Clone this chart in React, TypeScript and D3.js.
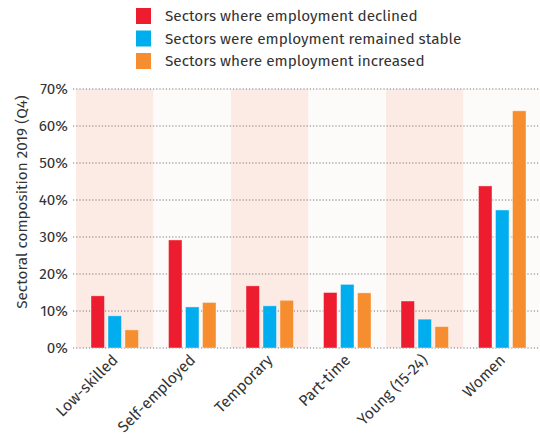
import React from "react";
import * as d3 from "d3";

const categories = ["Low-skilled", "Self-employed", "Temporary", "Part-time", "Young (15-24)", "Women"];
const seriesNames = [
  "Sectors where employment declined",
  "Sectors were employment remained stable",
  "Sectors where employment increased",
];
const declined = [14.1, 29.2, 16.8, 15.0, 12.7, 43.8];
const stable = [8.7, 11.1, 11.4, 17.2, 7.8, 37.3];
const increased = [4.9, 12.3, 12.9, 14.9, 5.8, 64.1];
const yTicks = [0, 10, 20, 30, 40, 50, 60, 70];
const colors = ["#ed1c2e", "#00aeef", "#f68d2e"];

const W = 540;
const H = 439;
const FONT = "'Fira Sans', 'Open Sans', sans-serif";
const FS = 15.3;
const XFS = 15.5;

export default function App() {
  const x0 = d3.scaleBand<string>().domain(categories).range([76, 541]).padding(0);
  const y = d3.scaleLinear().domain([0, 70]).range([348, 89]);
  const series = [declined, stable, increased];
  const barW = 13.5;
  const gap = 3.5;
  const groupW = barW * 3 + gap * 2;

  return (
    <svg width={W} height={H} style={{ position: "absolute", left: 0, top: 0, background: "#fff" }}>
      {categories.map((c, i) => (
        <rect
          key={c}
          x={x0(c)}
          y={y(70)}
          width={x0.bandwidth()}
          height={y(0) - y(70)}
          fill={i % 2 === 0 ? "#fcebe4" : "#fdfbf9"}
        />
      ))}
      {yTicks.map((t) => (
        <g key={t}>
          <line x1={73} x2={540} y1={y(t)} y2={y(t)} stroke="#777" strokeWidth={1} strokeDasharray="1.2,2" />
          <text x={68} y={y(t)} dy="0.35em" textAnchor="end" fontFamily={FONT} fontSize={FS} fill="#333">
            {t}%
          </text>
        </g>
      ))}
      {categories.map((c, i) => {
        const cx = (x0(c) as number) + x0.bandwidth() / 2;
        const start = cx - groupW / 2;
        return series.map((s, k) => (
          <rect
            key={c + k}
            x={start + k * (barW + gap)}
            y={y(s[i])}
            width={barW}
            height={y(0) - y(s[i])}
            fill={colors[k]}
            stroke="#fff"
            strokeOpacity={0.5}
            strokeWidth={0.8}
          />
        ));
      })}
      {categories.map((c) => {
        const cx = (x0(c) as number) + x0.bandwidth() / 2;
        return (
          <text
            key={c}
            transform={`translate(${cx + 4},${361}) rotate(-45)`}
            textAnchor="end"
            fontFamily={FONT}
            fontSize={XFS}
            fill="#333"
          >
            {c}
          </text>
        );
      })}
      <text
        transform={`translate(27,202) rotate(-90)`}
        textAnchor="middle"
        fontFamily={FONT}
        fontSize={FS}
        fill="#333"
      >
        Sectoral composition 2019 (Q4)
      </text>
      {seriesNames.map((n, k) => (
        <g key={n} transform={`translate(136,${8 + k * 22.5})`}>
          <rect x={0} y={0} width={15} height={16} fill={colors[k]} />
          <text x={29} y={8} dy="0.35em" fontFamily={FONT} fontSize={FS} fill="#333">
            {n}
          </text>
        </g>
      ))}
    </svg>
  );
}
